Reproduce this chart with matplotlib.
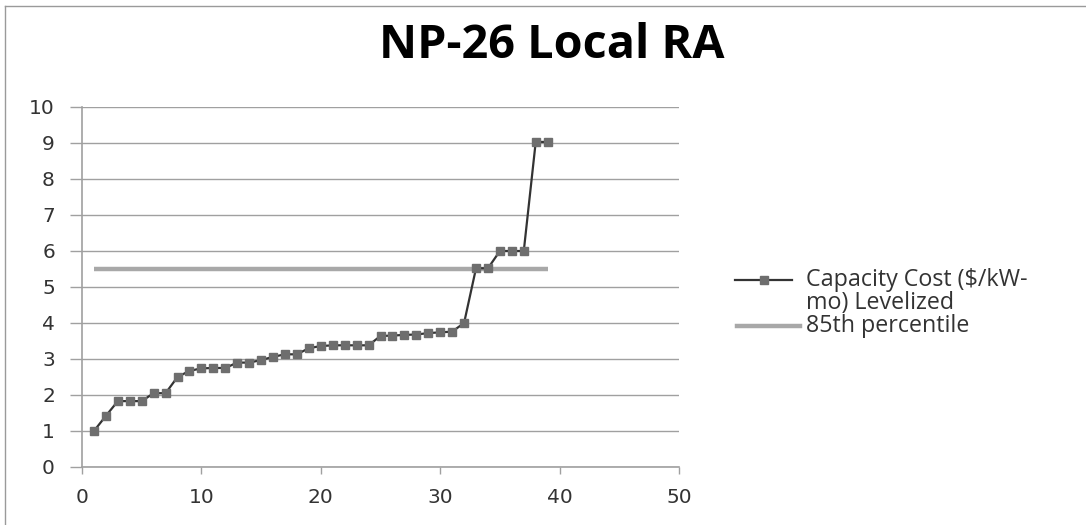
import matplotlib
matplotlib.use("Agg")
import matplotlib.pyplot as plt
from matplotlib.lines import Line2D

# Data
x_vals = list(range(1, 40))
capacity_cost = [1.0, 1.42, 1.83, 1.83, 1.83, 2.05, 2.05, 2.5, 2.67, 2.74,
                 2.75, 2.75, 2.9, 2.9, 2.97, 3.06, 3.13, 3.13, 3.3, 3.36,
                 3.38, 3.38, 3.38, 3.38, 3.64, 3.65, 3.67, 3.68, 3.72, 3.74,
                 3.76, 4.0, 5.52, 5.52, 6.0, 6.0, 6.0, 9.03, 9.03]
pct85_value = 5.5
pct85_x = [1, 39]
pct85_y = [pct85_value, pct85_value]

title = "NP-26 Local RA"
label1 = "Capacity Cost ($/kW-\nmo) Levelized"
label2 = "85th percentile"
x_ticks = [0, 10, 20, 30, 40, 50]
y_ticks = list(range(0, 11))

W, H = 1086, 525
fig = plt.figure(figsize=(W / 100, H / 100), dpi=100)
fig.patch.set_facecolor("white")

ax = fig.add_axes([82 / W, 1 - 467 / H, (679 - 82) / W, (467 - 107) / H])
grid_c = "#a0a0a0"

ax.plot(pct85_x, pct85_y, color="#a8a8a8", lw=3.2, solid_capstyle="butt", zorder=3)
ax.plot(x_vals, capacity_cost, color="#333333", lw=1.6, marker="s",
        markersize=6.2, markerfacecolor="#6e6e6e", markeredgecolor="#6e6e6e",
        zorder=4)

ax.set_xlim(0, 50)
ax.set_ylim(0, 10)
ax.set_xticks(x_ticks)
ax.set_yticks(y_ticks)
ax.yaxis.grid(True, color=grid_c, lw=1.0)
ax.set_axisbelow(True)
for s in ["top", "right"]:
    ax.spines[s].set_visible(False)
ax.spines["left"].set_color(grid_c)
ax.spines["bottom"].set_color(grid_c)
ax.spines["left"].set_linewidth(1.2)
ax.spines["bottom"].set_linewidth(1.2)
ax.tick_params(axis="y", length=8.5, width=1.0, color=grid_c, pad=11,
               labelsize=14.5, labelcolor="#333333")
ax.tick_params(axis="x", length=5, width=1.0, color=grid_c, pad=10,
               labelsize=14.5, labelcolor="#333333")
for lab in ax.get_xticklabels() + ax.get_yticklabels():
    lab.set_family("DejaVu Sans")

renderer = fig.canvas.get_renderer()

def fit_text(x, y, s, target_w, base_size, **kw):
    t = fig.text(x, y, s, fontsize=base_size, **kw)
    w = t.get_window_extent(renderer).width
    t.set_fontsize(base_size * target_w / w)
    return t

fit_text(552 / W, 1 - 46 / H, title, 345, 24, ha="center", va="center",
         fontweight="bold", family="Open Sans", color="black")

# Legend (drawn manually to match layout)
lx0, lx1 = 735 / W, 792 / W
y1 = 1 - 280 / H
fig.add_artist(Line2D([lx0, lx1], [y1, y1], color="#333333", lw=1.6,
                      transform=fig.transFigure))
fig.add_artist(Line2D([(lx0 + lx1) / 2], [y1], color="#6e6e6e", marker="s",
                      markersize=6.2, lw=0, transform=fig.transFigure))
t1 = fit_text(806 / W, y1, label1.split("\n")[0], 222, 14, ha="left",
              va="center", family="Open Sans", color="#333333")
fs = t1.get_fontsize()
fig.text(806 / W, 1 - 303 / H, label1.split("\n")[1], ha="left", va="center",
         fontsize=fs, family="Open Sans", color="#333333")
y2 = 1 - 326 / H
fig.text(806 / W, y2, label2, ha="left", va="center",
         fontsize=fs, family="Open Sans", color="#333333")
fig.add_artist(Line2D([737 / W, 800 / W], [y2, y2], color="#a8a8a8", lw=3.2,
                      transform=fig.transFigure))

# Chart-area border (left and top visible)
fig.add_artist(Line2D([5 / W, 5 / W], [0, 1 - 6 / H], color="#9a9a9a", lw=1.0,
                      transform=fig.transFigure))
fig.add_artist(Line2D([5 / W, 1], [1 - 6 / H, 1 - 6 / H], color="#9a9a9a", lw=1.0,
                      transform=fig.transFigure))

fig.savefig("out.png", dpi=100, facecolor="white")
